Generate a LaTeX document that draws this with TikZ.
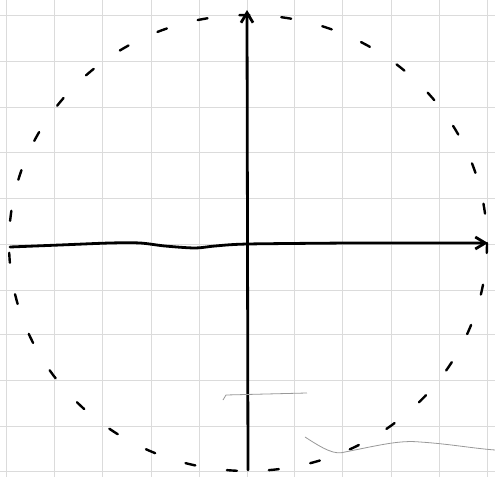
\documentclass[tikz,border=0pt]{standalone}
\usetikzlibrary{arrows.meta}
\begin{document}
\begin{tikzpicture}[x=0.5pt,y=-0.5pt,
  gridline/.style={gray!28,line width=0.5pt},
  axisline/.style={black,line width=1.4pt,line cap=round,-{Straight Barb[length=5pt,width=6pt]}},
  circ/.style={black,line width=1.2pt,dash pattern=on 5pt off 16pt,line cap=round},
  faint/.style={gray!80,line width=0.4pt}]
\useasboundingbox (0,0) rectangle (495,477);
\fill[white] (0,0) rectangle (495,477);
% grid
\foreach \gx in {7,55,103,152,200,248,295,343,392,440,488}
  \draw[gridline] (\gx,0) -- (\gx,477);
\foreach \gy in {15,61,107,152,198,244,290,335,381,427,472}
  \draw[gridline] (0,\gy) -- (495,\gy);
% dashed circle
\coordinate (O) at (248,243);
\draw[circ] (O) ellipse [x radius=239, y radius=228];
% axes
\coordinate (xs) at (10,247);
\coordinate (xe) at (488,243);
\coordinate (ys) at (248,470);
\coordinate (ye) at (247,10);
\draw[axisline] plot[smooth] coordinates {(10,247) (60,245) (110,243) (140,243) (165,246) (195,248) (215,246) (248,244) (350,243)} -- (xe);
\draw[axisline] (ys) -- (ye);
% faint stray strokes
\coordinate (f1) at (223,400);
\coordinate (f2) at (307,393);
\draw[faint] (f1) -- (226,395) -- (f2);
\coordinate (g1) at (305,437);
\coordinate (g2) at (495,450);
\draw[faint] (g1) .. controls (325,450) and (335,455) .. (345,452) .. controls (380,445) and (400,440) .. (420,442) .. controls (450,444) and (470,448) .. (g2);
\end{tikzpicture}
\end{document}
